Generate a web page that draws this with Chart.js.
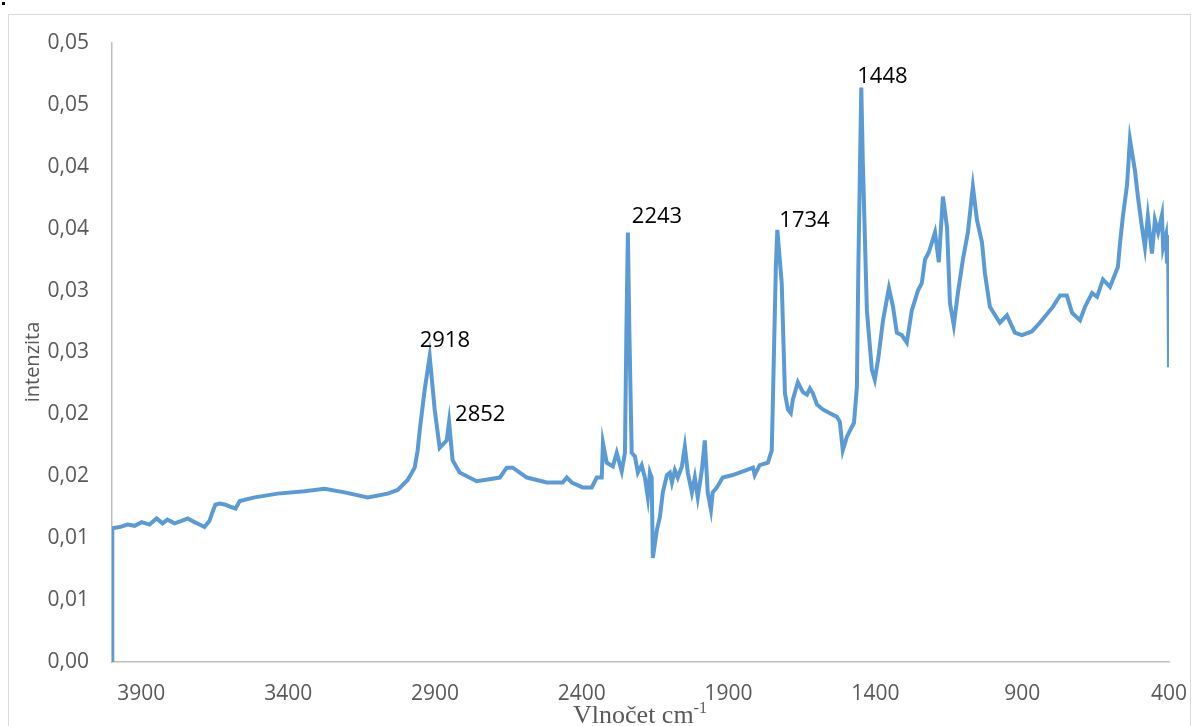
<!DOCTYPE html>
<html>
<head>
<meta charset="utf-8">
<script src="https://cdn.jsdelivr.net/npm/chart.js@4.4.1/dist/chart.umd.min.js"></script>
<style>
  body { margin: 0; background: #fff; }
  canvas { display: block; }
</style>
</head>
<body>
<canvas id="spectrumChart" width="1194" height="726"></canvas>
<script>
// spectrum, high wavenumber first
const wavenumbers = [
  4000, 3999, 3974, 3947, 3923, 3899, 3872, 3848, 3828, 3811, 3787, 3763, 3742, 3719, 3702, 3685,
  3668, 3658, 3648, 3633, 3613, 3592, 3579, 3565, 3514, 3436, 3344, 3276,
  3208, 3129, 3061, 3027, 2993, 2969, 2959, 2952, 2935, 2918, 2901, 2884, 2860, 2852, 2840, 2816,
  2758, 2679, 2656, 2635, 2587, 2519, 2465, 2451, 2434, 2397, 2366, 2349, 2332, 2328, 2315, 2294,
  2281, 2264, 2253, 2248, 2243, 2238, 2230, 2219, 2209, 2196, 2185, 2175, 2168, 2162, 2158, 2144,
  2134, 2124, 2110, 2100, 2093, 2083, 2073, 2059, 2049, 2039, 2025, 2015, 2005, 1991, 1981, 1971,
  1960, 1954, 1940, 1920, 1886, 1851, 1817, 1811, 1794, 1766, 1753, 1749, 1739, 1734, 1719, 1708,
  1698, 1688, 1681, 1664, 1647, 1633, 1623, 1613, 1599, 1579, 1555, 1531, 1521, 1511, 1497, 1480,
  1473, 1463, 1458, 1448, 1443, 1429, 1412, 1402, 1391, 1374, 1354, 1340, 1327, 1310, 1293, 1276,
  1255, 1242, 1231, 1218, 1197, 1184, 1170, 1156, 1146, 1133, 1119, 1102, 1085, 1068, 1054, 1037,
  1027, 1010, 976, 952, 925, 901, 867, 840, 795, 771, 748, 730, 703, 686, 662, 645,
  625, 601, 574, 567, 557, 543, 533, 516, 506, 492, 482, 472, 458, 448, 437, 424,
  420, 410, 407, 403, 400
];
const intensity = [
  0, 0.0108, 0.0109, 0.0111, 0.0110, 0.0113, 0.0111, 0.0116, 0.0112, 0.0115, 0.0112, 0.0114, 0.0116, 0.0113, 0.0111, 0.0109,
  0.0114, 0.0121, 0.0127, 0.0128, 0.0127, 0.0125, 0.0124, 0.0130, 0.0133, 0.0136, 0.0138, 0.0140,
  0.0137, 0.0133, 0.0136, 0.0139, 0.0147, 0.0157, 0.0171, 0.0187, 0.0220, 0.0247, 0.0204, 0.0173, 0.0179, 0.0194, 0.0163, 0.0153,
  0.0146, 0.0149, 0.0157, 0.0157, 0.0149, 0.0145, 0.0145, 0.0149, 0.0145, 0.0141, 0.0141, 0.0149, 0.0149, 0.0177, 0.0161, 0.0158,
  0.0169, 0.0154, 0.0169, 0.0268, 0.0347, 0.0268, 0.0169, 0.0166, 0.0153, 0.0159, 0.0149, 0.0133, 0.0153, 0.0149, 0.0084, 0.0107,
  0.0117, 0.0137, 0.0151, 0.0153, 0.0145, 0.0155, 0.0149, 0.0158, 0.0174, 0.0153, 0.0137, 0.0149, 0.0133, 0.0155, 0.0179, 0.0137,
  0.0123, 0.0137, 0.0141, 0.0149, 0.0151, 0.0154, 0.0157, 0.0151, 0.0159, 0.0161, 0.0171, 0.0212, 0.0319, 0.0349, 0.0306, 0.0217,
  0.0204, 0.0201, 0.0212, 0.0226, 0.0218, 0.0216, 0.0221, 0.0217, 0.0208, 0.0204, 0.0201, 0.0198, 0.0194, 0.0171, 0.0182, 0.0190,
  0.0193, 0.0222, 0.0319, 0.0464, 0.0406, 0.0284, 0.0236, 0.0228, 0.0244, 0.0276, 0.0302, 0.0287, 0.0266, 0.0264, 0.0258, 0.0284,
  0.0300, 0.0306, 0.0325, 0.0331, 0.0347, 0.0323, 0.0376, 0.0351, 0.0290, 0.0272, 0.0298, 0.0325, 0.0347, 0.0384, 0.0357, 0.0339,
  0.0314, 0.0287, 0.0274, 0.0280, 0.0266, 0.0264, 0.0267, 0.0274, 0.0287, 0.0296, 0.0296, 0.0282, 0.0276, 0.0287, 0.0298, 0.0295,
  0.0309, 0.0303, 0.0319, 0.0338, 0.0360, 0.0385, 0.0422, 0.0397, 0.0376, 0.0351, 0.0335, 0.0360, 0.0330, 0.0357, 0.0347, 0.0361,
  0.0335, 0.0345, 0.0322, 0.0343, 0.0238
];

const xTicks = [3900, 3400, 2900, 2400, 1900, 1400, 900, 400];
const peakLabels = [2918, 2852, 2243, 1734, 1448];
// where each label sits relative to its peak top: [dx from peak to text left, dy to text middle]
const peakLabelOffsets = [[-10, -15], [6, -7], [4, -16], [2, -9], [-4, -11]];

const FONT = "'Open Sans', sans-serif";
const GREY = '#595959';

const decorations = {
  id: 'decorations',
  beforeDraw(chart) {
    const ctx = chart.ctx;
    ctx.save();
    ctx.strokeStyle = '#d9d9d9';
    ctx.lineWidth = 1;
    ctx.strokeRect(8.5, 14.5, 1182, 800);
    ctx.fillStyle = '#000';
    ctx.fillRect(2, 2, 3, 3);
    ctx.restore();
  },
  afterDraw(chart) {
    const ctx = chart.ctx;
    const xs = chart.scales.x, ys = chart.scales.y;
    ctx.save();

    // peak labels
    ctx.fillStyle = '#000';
    ctx.font = '22px ' + FONT;
    ctx.textAlign = 'left';
    ctx.textBaseline = 'middle';
    peakLabels.forEach((wn, i) => {
      const v = intensity[wavenumbers.indexOf(wn)];
      const px = xs.getPixelForValue(wn) + peakLabelOffsets[i][0];
      const py = ys.getPixelForValue(v) + peakLabelOffsets[i][1];
      ctx.fillText(String(wn), px, py);
    });

    // y title
    ctx.fillStyle = GREY;
    ctx.font = '20px ' + FONT;
    ctx.textAlign = 'center';
    ctx.translate(33, 362);
    ctx.rotate(-Math.PI / 2);
    ctx.fillText('intenzita', 0, 0);
    ctx.setTransform(1, 0, 0, 1, 0, 0);

    // x title with superscript
    ctx.font = "26px 'Liberation Serif', serif";
    ctx.textBaseline = 'alphabetic';
    ctx.textAlign = 'left';
    const main = 'Vlnočet cm';
    const sup = '-1';
    const wMain = ctx.measureText(main).width;
    ctx.font = "16px 'Liberation Serif', serif";
    const wSup = ctx.measureText(sup).width;
    const left = 640 - (wMain + wSup) / 2;
    ctx.font = "26px 'Liberation Serif', serif";
    ctx.fillText(main, left, 723);
    ctx.font = "16px 'Liberation Serif', serif";
    ctx.fillText(sup, left + wMain, 713);
    ctx.restore();
  }
};

new Chart(document.getElementById('spectrumChart'), {
  type: 'line',
  data: {
    datasets: [{
      data: wavenumbers.map((wn, i) => ({ x: wn, y: intensity[i] })),
      borderColor: '#5B9BD5',
      borderWidth: 4,
      pointRadius: 0,
      tension: 0,
      fill: false
    }]
  },
  options: {
    responsive: false,
    animation: false,
    layout: { padding: { top: 43, right: 25, left: 0, bottom: 0 } },
    plugins: { legend: { display: false }, tooltip: { enabled: false } },
    scales: {
      x: {
        type: 'linear',
        reverse: true,
        min: 400,
        max: 4000,
        afterBuildTicks: (scale) => { scale.ticks = xTicks.map(v => ({ value: v })); },
        afterFit: (scale) => {
          scale.height = 64;
          scale.paddingLeft = 0;
          scale.paddingRight = 0;
        },
        grid: { display: false, drawTicks: false },
        border: { display: true, color: '#bfbfbf', width: 1.5 },
        ticks: {
          padding: 19,
          maxRotation: 0,
          autoSkip: false,
          color: GREY,
          font: { family: FONT, size: 21 },
          callback: (v) => String(v)
        }
      },
      y: {
        min: 0,
        max: 0.05,
        afterFit: (scale) => {
          scale.width = 112;
          scale.paddingTop = 0;
          scale.paddingBottom = 0;
        },
        grid: { display: false, drawTicks: false },
        border: { display: true, color: '#bfbfbf', width: 1.5 },
        ticks: {
          stepSize: 0.005,
          padding: 23,
          color: GREY,
          font: { family: FONT, size: 21 },
          callback: (v) => (Math.round(v * 100 + 1e-6) / 100).toFixed(2).replace('.', ',')
        }
      }
    }
  },
  plugins: [decorations]
});
</script>
</body>
</html>
